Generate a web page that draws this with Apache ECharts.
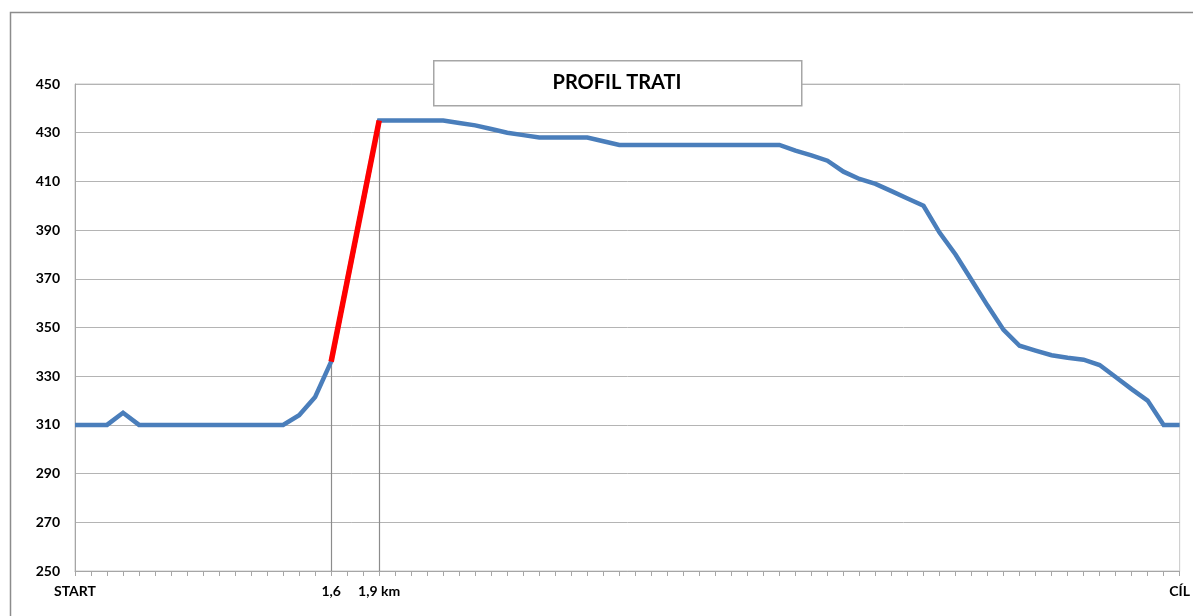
<!DOCTYPE html>
<html>
<head>
<meta charset="utf-8">
<script src="https://cdn.jsdelivr.net/npm/echarts@6/dist/echarts.min.js"></script>
<style>
html,body{margin:0;padding:0;background:#fff;}
#chart{width:1193px;height:616px;}
</style>
</head>
<body>
<div id="chart"></div>
<script>
// elevation (m) every 0.1 km, index 0 = START, last = CÍL
const elevation = [
  310, 310, 310, 315, 310, 310, 310, 310, 310, 310,
  310, 310, 310, 310, 314, 321.5, 336, null, null, 435,
  435, 435, 435, 435, 434, 433, 431.5, 430, 429, 428,
  428, 428, 428, 426.5, 425, 425, 425, 425, 425, 425,
  425, 425, 425, 425, 425, 422.6, 420.7, 418.5, 414, 411,
  409, 406, 403, 400, 389, 380, 369.5, 359, 349, 342.5,
  340.5, 338.6, 337.6, 336.8, 334.6, 329.7, 324.7, 320, 310, 310
];
// labelled ticks on the distance axis
const tickLabelIndex = [0, 16, 19, 69];
const tickLabelText = ['START', '1,6', '1,9 km', 'CÍL'];
// steep climb section (index range)
const climbFrom = 16;
const climbTo = 19;
const yTicks = [250, 270, 290, 310, 330, 350, 370, 390, 410, 430, 450];
const titleText = 'PROFIL TRATI';

const categories = elevation.map((_, i) => {
  const k = tickLabelIndex.indexOf(i);
  return k >= 0 ? tickLabelText[k] : '';
});
const climbData = elevation.map((v, i) => (i === climbFrom || i === climbTo) ? v : null);
const dropLines = [climbFrom, climbTo].map(i => [
  { coord: [i, yTicks[0]] },
  { coord: [i, elevation[i]] }
]);

const FONT = 'Lato, "Open Sans", sans-serif';
const chart = echarts.init(document.getElementById('chart'), null, { renderer: 'canvas' });
chart.setOption({
  animation: false,
  backgroundColor: '#ffffff',
  grid: { left: 75, right: 13, top: 84, bottom: 45, show: true, borderColor: '#c8c8c8', borderWidth: 1 },
  xAxis: {
    type: 'category',
    data: categories,
    boundaryGap: false,
    axisLine: { lineStyle: { color: '#a6a6a6', width: 1 } },
    axisTick: { show: true, interval: 0, length: 5, lineStyle: { color: '#a6a6a6' } },
    axisLabel: { interval: 0, margin: 13, color: '#000', fontWeight: 'bold', fontSize: 14, fontFamily: FONT, hideOverlap: false },
    splitLine: { show: false }
  },
  yAxis: {
    type: 'value',
    min: yTicks[0],
    max: yTicks[yTicks.length - 1],
    interval: yTicks[1] - yTicks[0],
    axisLine: { show: true, lineStyle: { color: '#a6a6a6', width: 1 } },
    axisTick: { show: false },
    axisLabel: { margin: 15, color: '#000', fontWeight: 'bold', fontSize: 14, fontFamily: FONT },
    splitLine: { show: true, lineStyle: { color: '#b4b4b4', width: 1 } }
  },
  series: [
    {
      type: 'line',
      data: elevation,
      connectNulls: true,
      showSymbol: false,
      symbol: 'none',
      lineStyle: { color: '#4a7ebb', width: 4.5, join: 'miter' },
      z: 3,
      markLine: {
        silent: true,
        symbol: ['none', 'none'],
        label: { show: false },
        lineStyle: { color: '#8c8c8c', width: 1.2, type: 'solid' },
        data: dropLines,
        z: 1
      }
    },
    {
      type: 'line',
      data: climbData,
      connectNulls: true,
      showSymbol: false,
      symbol: 'none',
      lineStyle: { color: '#ff0000', width: 5.5 },
      z: 4
    }
  ],
  graphic: [
    {
      type: 'rect',
      left: 8, top: 10, z: 0,
      shape: { x: 0, y: 0, width: 1200, height: 620 },
      style: { fill: 'none', stroke: '#8c8c8c', lineWidth: 1.5 },
      silent: true
    },
    {
      type: 'rect',
      left: 433, top: 60, z: 100,
      shape: { x: 0, y: 0, width: 368, height: 45 },
      style: { fill: '#ffffff', stroke: '#a6a6a6', lineWidth: 1.5 },
      silent: true
    },
    {
      type: 'text',
      x: 617, y: 82.5, z: 101,
      style: { text: titleText, fill: '#000', font: 'bold 20px ' + FONT, textAlign: 'center', textVerticalAlign: 'middle' },
      silent: true
    }
  ]
});
</script>
</body>
</html>
